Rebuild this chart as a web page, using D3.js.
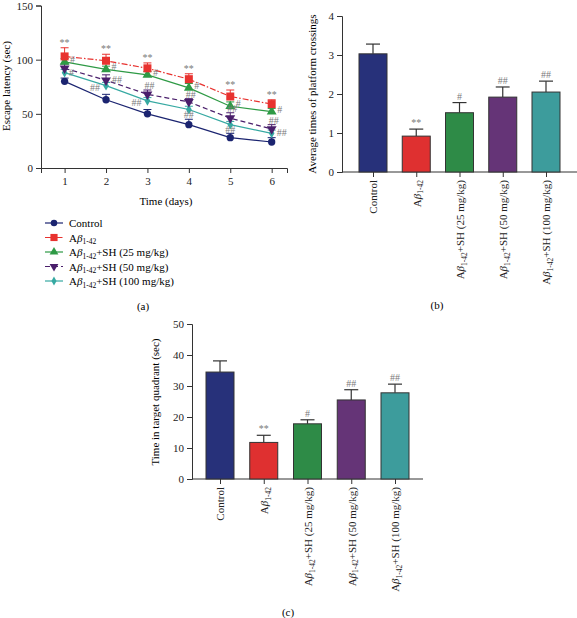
<!DOCTYPE html>
<html><head><meta charset="utf-8">
<script src="https://cdn.jsdelivr.net/npm/d3@7"></script>
<style>
body{margin:0;background:#fff;}
svg, svg text{font-family:"Liberation Serif","Times New Roman",Times,serif;}
</style></head>
<body><svg id="c" width="577" height="618"></svg>
<script>
// ---------- DATA ----------
const days = [1, 2, 3, 4, 5, 6];
const dayTicks = [1, 2, 3, 4, 5, 6];
const latencyTicks = [0, 50, 100, 150];
const seriesNames = ["Control", "Aβ1-42", "Aβ1-42+SH (25 mg/kg)", "Aβ1-42+SH (50 mg/kg)", "Aβ1-42+SH (100 mg/kg)"];
const latControl = [80, 63, 50, 40, 28, 24];
const latControlErr = [3, 5, 4, 5, 4, 4];
const latAbeta = [103, 99, 92, 82, 66, 59];
const latAbetaErr = [8, 6, 5, 5, 6, 4];
const latSH25 = [98, 91, 86, 74, 57, 52];
const latSH25Err = [3, 3, 3, 4, 4, 3];
const latSH50 = [92, 81, 68, 61, 46, 36];
const latSH50Err = [4, 5, 4, 3, 5, 4];
const latSH100 = [88, 76, 62, 54, 40, 32];
const latSH100Err = [3, 3, 3, 3, 3, 3];
const latAbetaSig = ["**", "**", "**", "**", "**", "**"];
const latSH25Sig = ["#", "#", "#", "#", "#", "#"];
const latSH50Sig = ["", "##", "##", "##", "##", "##"];
const latSH100Sig = ["#", "##", "##", "##", "##", "##"];

const groups = ["Control", "Aβ1-42", "Aβ1-42+SH (25 mg/kg)", "Aβ1-42+SH (50 mg/kg)", "Aβ1-42+SH (100 mg/kg)"];
const crossings = [3.03, 0.92, 1.52, 1.92, 2.05];
const crossingsErr = [0.25, 0.18, 0.26, 0.26, 0.28];
const crossingsSig = ["", "**", "#", "##", "##"];
const crossingTicks = [0, 1, 2, 3, 4];
const quadrantTime = [34.5, 11.8, 17.8, 25.5, 27.8];
const quadrantErr = [3.6, 2.3, 1.3, 3.3, 2.8];
const quadrantSig = ["", "**", "#", "##", "##"];
const quadrantTicks = [0, 10, 20, 30, 40, 50];

// ---------- STYLE ----------
const FONT = "'Liberation Serif','Times New Roman',Times,serif";
const lineColors = ["#1b2470", "#e8322f", "#2e9a45", "#4a1f6b", "#36a9a2"];
const barColors = ["#27317a", "#df3030", "#2e8b47", "#653477", "#3d9c9c"];
const dashes = [null, "6,2,1.5,2", null, "5,3", null];
const sigColor = "#7a7a7a";
const fs = 11;

const svg = d3.select("#c").attr("font-family", FONT);

// label with A beta subscript
function richLabel(sel, name, size) {
  sel.text(null);
  if (name.startsWith("Aβ1-42")) {
    sel.append("tspan").text("A");
    sel.append("tspan").attr("font-style", "italic").text("β");
    sel.append("tspan").attr("font-size", size * 0.68).attr("dy", size * 0.25).text("1-42");
    const rest = name.slice(6);
    if (rest) sel.append("tspan").attr("dy", -size * 0.25).text(rest);
  } else sel.text(name);
}

function styleAxis(g) {
  g.attr("font-family", FONT);
  g.selectAll("path,line").attr("stroke", "#333").attr("stroke-width", 1);
  g.selectAll("text").attr("font-size", fs).attr("fill", "#222");
}

// ---------- PANEL A ----------
const xA = d3.scaleLinear().domain([0.43, 6.37]).range([41, 287]);
const yA = d3.scaleLinear().domain([0, 150]).range([168, 5.5]);
const gA = svg.append("g");
gA.append("g").attr("transform", "translate(41,0)")
  .call(d3.axisLeft(yA).tickValues(latencyTicks).tickFormat(d3.format("d")).tickSize(5).tickPadding(3)).call(styleAxis);
gA.append("g").attr("transform", "translate(0,168)")
  .call(d3.axisBottom(xA).tickValues(dayTicks).tickFormat(d3.format("d")).tickSize(5).tickPadding(4)).call(styleAxis);
gA.append("text").attr("x", 166).attr("y", 205).attr("text-anchor", "middle").attr("font-size", fs).text("Time (days)");
gA.append("text").attr("transform", "translate(10,86) rotate(-90)").attr("text-anchor", "middle").attr("font-size", fs).text("Escape latency (sec)");

const latVals = [latControl, latAbeta, latSH25, latSH50, latSH100];
const latErrs = [latControlErr, latAbetaErr, latSH25Err, latSH50Err, latSH100Err];
const symTypes = [d3.symbolCircle, d3.symbolSquare, d3.symbolTriangle, d3.symbolTriangle, d3.symbolDiamond];
const symSizes = [42, 64, 42, 42, 28];
const symRot = [0, 0, 0, 180, 0];
const line = d3.line().x(d => xA(d[0])).y(d => yA(d[1]));
const drawOrder = [0, 4, 3, 2, 1];
drawOrder.forEach(i => {
  const pts = days.map((d, k) => [d, latVals[i][k], latErrs[i][k]]);
  const g = gA.append("g");
  g.append("path").attr("d", line(pts)).attr("fill", "none").attr("stroke", lineColors[i])
    .attr("stroke-width", 1.2).attr("stroke-dasharray", dashes[i]);
  pts.forEach(p => {
    const x = xA(p[0]), y0 = yA(p[1]), y1 = yA(p[1] + p[2]);
    g.append("line").attr("x1", x).attr("x2", x).attr("y1", y0).attr("y2", y1).attr("stroke", lineColors[i]).attr("stroke-width", 1);
    g.append("line").attr("x1", x - 4).attr("x2", x + 4).attr("y1", y1).attr("y2", y1).attr("stroke", lineColors[i]).attr("stroke-width", 1);
    g.append("path").attr("d", d3.symbol().type(symTypes[i]).size(symSizes[i])())
      .attr("transform", `translate(${x},${y0}) rotate(${symRot[i]})`).attr("fill", lineColors[i]);
  });
});

// significance marks on line chart
function sigText(x, y, t) {
  if (!t) return;
  gA.append("text").attr("x", x).attr("y", y).attr("text-anchor", "middle").attr("font-size", 10)
    .attr("fill", sigColor).text(t);
}
days.forEach((d, k) => {
  const x = xA(d);
  sigText(x, yA(latAbeta[k] + latAbetaErr[k]) - 2, latAbetaSig[k]);
  sigText(x + 8, yA(latSH25[k]) + 1, latSH25Sig[k]);
  if (k === 1) sigText(x + 11, yA(latSH50[k]) + 3, latSH50Sig[k]);
  else sigText(x + 2, yA(latSH50[k] + latSH50Err[k]) - 1, latSH50Sig[k]);
  if (k === 0) sigText(x + 7, yA(latSH100[k]) + 3, latSH100Sig[k]);
  else if (k < 3) sigText(x - 11, yA(latSH100[k]) + 5, latSH100Sig[k]);
  else if (k < 5) sigText(x, yA(latSH100[k]) + 8, latSH100Sig[k]);
  else sigText(x + 10, yA(latSH100[k]) + 3, latSH100Sig[k]);
});

// legend
const legY = d3.scalePoint().domain(seriesNames).range([223, 281]);
seriesNames.forEach((n, i) => {
  const y = legY(n);
  const g = svg.append("g");
  g.append("line").attr("x1", 45).attr("x2", 63).attr("y1", y).attr("y2", y).attr("stroke", lineColors[i])
    .attr("stroke-width", 1.2).attr("stroke-dasharray", dashes[i]);
  g.append("path").attr("d", d3.symbol().type(symTypes[i]).size(symSizes[i] * 0.8)())
    .attr("transform", `translate(54,${y}) rotate(${symRot[i]})`).attr("fill", lineColors[i]);
  g.append("text").attr("x", 69).attr("y", y + 4).attr("font-size", fs).call(s => richLabel(s, n, fs));
});
svg.append("text").attr("x", 143).attr("y", 310).attr("text-anchor", "middle").attr("font-size", fs).text("(a)");

// ---------- BAR PANELS ----------
function barPanel(opt) {
  const g = svg.append("g");
  const x = d3.scalePoint().domain(groups).range(opt.xr);
  const y = d3.scaleLinear().domain(opt.yd).range(opt.yr);
  g.append("g").attr("transform", `translate(${opt.ax},0)`)
    .call(d3.axisLeft(y).tickValues(opt.ticks).tickFormat(d3.format("d")).tickSize(5).tickPadding(3)).call(styleAxis);
  const xg = g.append("g").attr("transform", `translate(0,${opt.yr[0]})`)
    .call(d3.axisBottom(x).tickSize(5).tickPadding(7)).call(styleAxis);
  xg.select(".domain").remove();
  xg.append("line").attr("x1", opt.ax).attr("x2", opt.axEnd).attr("stroke", "#333");
  xg.selectAll(".tick text").attr("transform", "rotate(-90)").attr("text-anchor", "end")
    .attr("x", -8).attr("y", 0).attr("dy", "0.35em").attr("font-size", fs)
    .each(function(d) { richLabel(d3.select(this), d, fs); });
  const bw = 28;
  groups.forEach((grp, i) => {
    const cx = x(grp), v = opt.vals[i], e = opt.errs[i];
    const yt = y(v + e);
    g.append("line").attr("x1", cx).attr("x2", cx).attr("y1", y(v)).attr("y2", yt).attr("stroke", "#333").attr("stroke-width", 1.2);
    g.append("line").attr("x1", cx - 7).attr("x2", cx + 7).attr("y1", yt).attr("y2", yt).attr("stroke", "#333").attr("stroke-width", 1.2);
    g.append("rect").attr("x", cx - bw / 2).attr("y", y(v)).attr("width", bw).attr("height", y(0) - y(v))
      .attr("fill", barColors[i]).attr("stroke", "#333").attr("stroke-width", 1);
    if (opt.sig[i]) g.append("text").attr("x", cx).attr("y", yt - 3).attr("text-anchor", "middle")
      .attr("font-size", 10).attr("fill", sigColor).text(opt.sig[i]);
  });
  g.append("text").attr("transform", `translate(${opt.labX},${opt.labY}) rotate(-90)`).attr("text-anchor", "middle")
    .attr("font-size", fs).text(opt.label);
  g.append("text").attr("x", opt.panX).attr("y", opt.panY).attr("text-anchor", "middle").attr("font-size", fs).text(opt.panel);
}

barPanel({xr: [373, 546], yd: [0, 4], yr: [172, 16], ax: 342, axEnd: 577, ticks: crossingTicks,
  vals: crossings, errs: crossingsErr, sig: crossingsSig, label: "Average times of platform crossings",
  labX: 316, labY: 94, panel: "(b)", panX: 437, panY: 309});
barPanel({xr: [220, 395], yd: [0, 50], yr: [479, 324], ax: 192, axEnd: 423, ticks: quadrantTicks,
  vals: quadrantTime, errs: quadrantErr, sig: quadrantSig, label: "Time in target quadrant (sec)",
  labX: 159, labY: 402, panel: "(c)", panX: 288, panY: 616});
</script></body></html>
